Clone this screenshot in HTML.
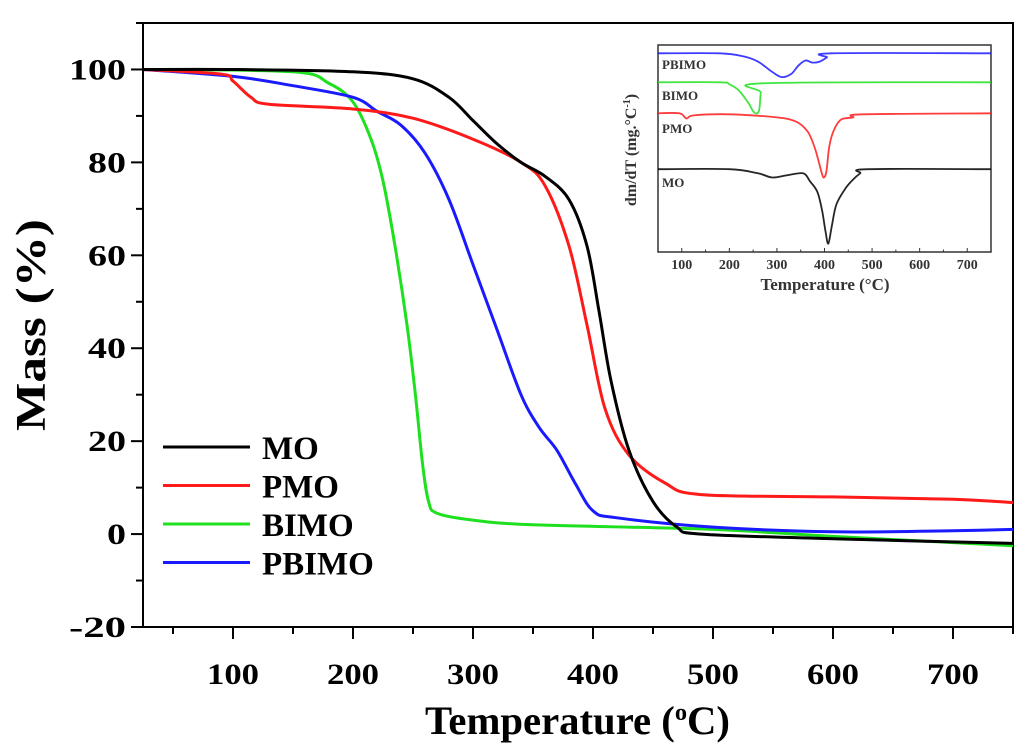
<!DOCTYPE html>
<html><head><meta charset="utf-8"><style>
html,body{margin:0;padding:0;background:#fff;}
svg{display:block;font-family:"Liberation Serif",serif;font-weight:bold;}
</style></head><body>
<svg id="chart" width="1024" height="755" viewBox="0 0 1024 755"></svg>
<script>
// ---- main chart data ----
const seriesNames = ["MO","PMO","BIMO","PBIMO"];
const seriesColors = ["#000000","#ff1a1a","#1ee01e","#1a1aff"];
const moT = [25,100,200,250,280,300,320,340,360,380,395,405,415,430,450,470,490,600,750];
const moM = [100,100,99.5,98,94,89,84,80,77,72,62,48,33,18,7,1.5,0,-1,-2];
const pmoT = [25,90,100,115,130,200,250,300,340,360,380,395,410,430,460,490,600,700,750];
const pmoM = [100,99,97.5,94,92.5,91.5,89.5,85,80,75,62,45,27,17,11,8.5,8,7.5,6.8];
const bimoT = [25,150,180,200,215,225,235,245,252,258,263,270,300,350,500,600,750];
const bimoM = [100,99.5,97,93,85,76,62,45,30,15,7,4.5,3,2,1,-0.5,-2.5];
const pbimoT = [25,100,150,200,220,240,260,280,300,320,340,355,370,385,400,420,500,600,700,750];
const pbimoM = [100,98.5,96.5,94,91,88,82,72,58,44,30,23,18,11,5,3.5,1.5,0.5,0.7,1];
const xTicks = [100,200,300,400,500,600,700];
const yTicks = [-20,0,20,40,60,80,100];
// ---- inset (DTG) data: deviation from baseline ----
const inBase = [40,67,82,96]; // MO, PMO, BIMO, PBIMO baselines
const inMoT = [50,200,260,290,320,355,370,385,395,402,408,415,425,445,460,475,490,750];
const inMoV = [0,0,-2,-4,-3,-2,-6,-11,-20,-30,-36,-28,-17,-9,-5,-2,0,0];
const inPmoT = [50,95,110,125,200,300,340,365,380,392,398,404,410,420,435,460,480,750];
const inPmoV = [0,0,-2.5,-1,-0.5,-2,-4,-9,-17,-27,-31,-28,-16,-8,-3,-2,-0.5,0];
const inBimoT = [50,180,200,220,240,252,262,266,270,750];
const inBimoV = [0,0,-1,-4,-10,-14.5,-14,-5,-0.5,0];
const inPbimoT = [50,180,230,260,290,310,330,345,360,375,390,405,415,750];
const inPbimoV = [0,0,-1.5,-4,-9,-11.5,-10,-6,-3.5,-4.5,-4,-2,0,0];
const inXTicks = [100,200,300,400,500,600,700];

const NS="http://www.w3.org/2000/svg";
const svg=document.getElementById('chart');
function mk(tag,attrs,parent){const e=document.createElementNS(NS,tag);for(const k in attrs)e.setAttribute(k,attrs[k]);(parent||svg).appendChild(e);return e;}
function smooth(pts){
  let d='M'+pts[0][0].toFixed(1)+','+pts[0][1].toFixed(1);
  for(let i=0;i<pts.length-1;i++){
    const p0=pts[Math.max(0,i-1)],p1=pts[i],p2=pts[i+1],p3=pts[Math.min(pts.length-1,i+2)];
    const c1=[p1[0]+(p2[0]-p0[0])/6,p1[1]+(p2[1]-p0[1])/6];
    const c2=[p2[0]-(p3[0]-p1[0])/6,p2[1]-(p3[1]-p1[1])/6];
    d+=`C${c1[0].toFixed(1)},${c1[1].toFixed(1)} ${c2[0].toFixed(1)},${c2[1].toFixed(1)} ${p2[0].toFixed(1)},${p2[1].toFixed(1)}`;
  }
  return d;
}

// main axes
const L=143,R=1013,T=23,B=627;
const xS=v=>L+(v-25)/(750-25)*(R-L);
const yS=v=>B-(v+20)/(110+20)*(B-T);

let ax=mk('path',{d:`M${L},${T}H${R}V${B}H${L}Z`,fill:'none',stroke:'#000','stroke-width':2});


for(let v=50;v<=750;v+=50){
  const major=v%100===0;
  const t=mk('line',{x1:xS(v),x2:xS(v),y1:B,y2:B+(major?12:7),stroke:'#000','stroke-width':2});
  
  
}
xTicks.forEach(v=>{
  const t=mk('text',{x:xS(v),y:B+57,'text-anchor':'middle','font-size':30,textLength:52,lengthAdjust:'spacingAndGlyphs'});
  t.textContent=v;
  
  
});
for(let v=-20;v<=110;v+=10){
  const major=v%20===0;
  const t=mk('line',{x1:L,x2:L-(major?12:7),y1:yS(v),y2:yS(v),stroke:'#000','stroke-width':2});
  
  
}
yTicks.forEach(v=>{
  const s=String(v);
  const w=s.length*19;
  const t=mk('text',{x:L-17,y:yS(v)+10,'text-anchor':'end','font-size':30,textLength:w,lengthAdjust:'spacingAndGlyphs'});
  t.textContent=s;
  
  
});
let xt=mk('text',{x:425,y:734,'font-size':40,textLength:305,lengthAdjust:'spacingAndGlyphs'});
xt.innerHTML='Temperature (<tspan font-size="24" dy="-14">o</tspan><tspan dy="14">C)</tspan>';


let yt=mk('text',{x:0,y:0,'text-anchor':'middle','font-size':42,textLength:212,lengthAdjust:'spacingAndGlyphs',transform:'translate(45,325) rotate(-90)'});
yt.textContent='Mass (%)';



const mainT=[moT,pmoT,bimoT,pbimoT], mainM=[moM,pmoM,bimoM,pbimoM];
const drawOrder=[2,3,1,0];
drawOrder.forEach(i=>{
  const d=smooth(mainT[i].map((t,j)=>[xS(t),yS(mainM[i][j])]));
  const p=mk('path',{d,fill:'none',stroke:seriesColors[i],'stroke-width':3,'stroke-linejoin':'round'});
  
  
});
// legend
seriesNames.forEach((n,i)=>{
  const y=447+i*38.5;
  const g=mk('g',{});
  
  
  mk('line',{x1:163,x2:250,y1:y,y2:y,stroke:seriesColors[i],'stroke-width':3},g);
  const t=mk('text',{x:262,y:y+12,'font-size':33},g);
  t.textContent=n;
});

// inset
const iL=658,iR=991,iT=45,iB=252;
const ixS=v=>iL+(v-50)/(750-50)*(iR-iL);
const iyS=v=>iB-v/100*(iB-iT);
let ib=mk('rect',{x:iL,y:iT,width:iR-iL,height:iB-iT,fill:'#fff',stroke:'#333','stroke-width':1.5});


for(let v=50;v<=750;v+=50){
  const t=mk('line',{x1:ixS(v),x2:ixS(v),y1:iB,y2:iB-(v%100===0?4:2.5),stroke:'#333','stroke-width':1});
  
  
}
inXTicks.forEach(v=>{
  const t=mk('text',{x:ixS(v),y:iB+17,'text-anchor':'middle','font-size':14,fill:'#333'});
  t.textContent=v;
  
  
});
let ixt=mk('text',{x:825,y:290,'text-anchor':'middle','font-size':17,fill:'#333'});
ixt.textContent='Temperature (°C)';


let iyt=mk('text',{x:0,y:0,'text-anchor':'middle','font-size':16,fill:'#333',transform:'translate(636,150) rotate(-90)'});
iyt.innerHTML='dm/dT (mg.°C<tspan font-size="10" dy="-6">-1</tspan><tspan dy="6">)</tspan>';


const inT=[inMoT,inPmoT,inBimoT,inPbimoT], inV=[inMoV,inPmoV,inBimoV,inPbimoV];
const inLabelY=[187,133,100,69];
seriesNames.forEach((n,i)=>{
  const d=smooth(inT[i].map((t,j)=>[ixS(t),iyS(inBase[i]+inV[i][j])]));
  const p=mk('path',{d,fill:'none',stroke:seriesColors[i],'stroke-width':1.8,'stroke-linejoin':'round',opacity:0.85});
  
  
  const t=mk('text',{x:662,y:inLabelY[i],'font-size':13,fill:'#333'});
  t.textContent=n;
  
  
});
</script>
</body></html>
